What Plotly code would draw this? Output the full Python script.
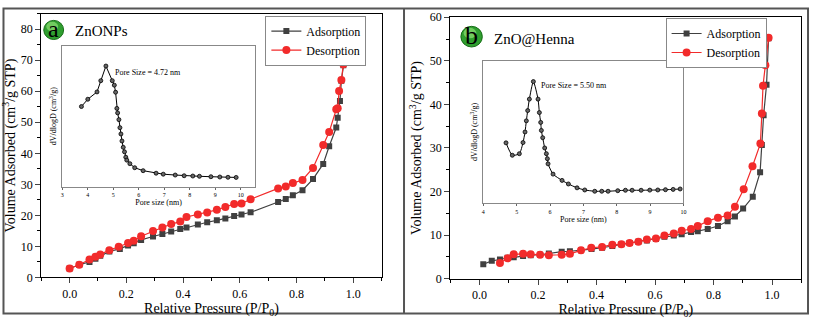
import plotly.graph_objects as go

W, H = 813, 323

# ZnONPs isotherm
ads_a_x = [0.0, 0.034, 0.07, 0.091, 0.108, 0.14, 0.177, 0.206, 0.226, 0.252, 0.294, 0.327, 0.358, 0.39, 0.412,
           0.452, 0.485, 0.519, 0.549, 0.58, 0.606, 0.638, 0.735, 0.762, 0.787, 0.821, 0.858, 0.894, 0.915, 0.94,
           0.945, 0.953, 0.958, 0.965, 0.977]
ads_a_y = [2.9, 4.1, 5.0, 6.0, 7.0, 8.4, 9.2, 10.3, 11.0, 12.1, 13.2, 14.0, 14.8, 15.6, 16.1,
           17.1, 17.8, 18.4, 19.0, 19.8, 20.3, 21.0, 24.3, 25.3, 26.5, 28.1, 31.7, 36.6, 42.3, 48.3,
           51.5, 56.9, 63.4, 68.4, 75.8]
des_a_x = [0.0, 0.034, 0.07, 0.091, 0.108, 0.14, 0.173, 0.206, 0.226, 0.252, 0.294, 0.327, 0.358, 0.39, 0.412,
           0.452, 0.485, 0.519, 0.549, 0.58, 0.606, 0.638, 0.735, 0.762, 0.787, 0.821, 0.858, 0.894, 0.915, 0.94,
           0.945, 0.95, 0.958, 0.965, 0.977]
des_a_y = [2.9, 4.1, 5.8, 6.7, 7.4, 8.8, 9.9, 11.1, 11.8, 13.3, 15.0, 16.1, 17.2, 18.0, 19.5,
           20.3, 20.9, 21.8, 22.7, 23.7, 23.8, 25.2, 28.7, 29.3, 30.4, 31.4, 35.3, 42.7, 46.9, 54.2,
           54.5, 60.1, 63.6, 68.7, 77.5]

# ZnO@Henna isotherm
ads_b_x = [0.013, 0.042, 0.07, 0.096, 0.117, 0.149, 0.175, 0.207, 0.237, 0.281, 0.309, 0.347, 0.383, 0.419,
           0.454, 0.485, 0.513, 0.543, 0.572, 0.603, 0.632, 0.664, 0.691, 0.723, 0.746, 0.78, 0.815, 0.848,
           0.873, 0.901, 0.934, 0.959, 0.965, 0.971, 0.981, 0.988]
ads_b_y = [3.3, 4.1, 4.4, 4.8, 4.9, 5.2, 5.4, 5.5, 5.8, 6.2, 6.3, 6.5, 6.8, 7.1,
           7.5, 7.9, 8.2, 8.5, 8.75, 9.1, 9.6, 9.9, 10.2, 10.7, 10.9, 11.4, 12.1, 13.2,
           14.3, 16.1, 18.8, 24.4, 30.7, 37.5, 44.5, 55.2]
des_b_x = [0.07, 0.096, 0.117, 0.149, 0.175, 0.207, 0.237, 0.281, 0.309, 0.347, 0.382, 0.419, 0.454, 0.485,
           0.513, 0.543, 0.572, 0.603, 0.632, 0.664, 0.691, 0.723, 0.746, 0.78, 0.815, 0.848, 0.873,
           0.903, 0.933, 0.96, 0.965, 0.969, 0.977, 0.988]
des_b_y = [3.6, 4.7, 5.6, 5.7, 5.6, 5.5, 5.4, 5.5, 5.7, 6.5, 7.1, 7.3, 7.8, 7.9,
           8.2, 8.5, 9.0, 9.2, 9.9, 10.4, 11.0, 11.4, 12.1, 13.2, 14.0, 14.5, 16.5,
           20.5, 25.8, 31.0, 37.9, 44.3, 49.0, 55.3]

# pore size distributions (relative dV/dlogD)
pore_a_x = [3.75, 4.0, 4.36, 4.51, 4.71, 4.96, 5.04, 5.09, 5.14, 5.17, 5.22, 5.26, 5.30, 5.34, 5.39, 5.44,
            5.49, 5.53, 5.65, 5.84, 6.17, 6.68, 6.96, 7.43, 7.78, 8.12, 8.38, 8.83, 9.18, 9.5, 9.82]
pore_a_y = [56.9, 62.1, 67.3, 75.3, 85.7, 75.3, 72.1, 67.1, 55.6, 52.4, 47.6, 41.9, 37.4, 32.4, 27.9, 24.7,
            20.9, 18.8, 16.3, 13.4, 11.3, 9.5, 8.8, 8.2, 7.7, 7.5, 7.3, 7.0, 6.8, 6.6, 6.5]
pore_b_x = [4.68, 4.87, 5.08, 5.19, 5.25, 5.29, 5.33, 5.38, 5.50, 5.64, 5.68, 5.72, 5.74, 5.78, 5.84, 5.89,
            5.92, 5.94, 6.09, 6.36, 6.55, 6.81, 7.04, 7.34, 7.55, 7.74, 8.03, 8.26, 8.46, 8.73, 8.99, 9.23,
            9.46, 9.69, 9.9]
pore_b_y = [42.4, 33.7, 34.8, 42.6, 50.0, 57.8, 65.0, 73.0, 85.3, 73.0, 63.6, 56.7, 51.1, 46.0, 38.8, 34.8,
            31.3, 27.7, 20.5, 16.1, 13.6, 10.9, 9.4, 8.5, 8.5, 8.5, 8.9, 9.2, 9.2, 9.2, 9.3, 9.4,
            9.6, 9.8, 10.1]

SERIF = "Liberation Serif, Times New Roman, serif"
GRAY = "#404040"
RED = "#f22b2b"


def px_x(v):
    return v / W


def px_y(v):
    return 1 - v / H


fig = go.Figure()

for xs, ys, xa, ya, leg in [(ads_a_x, ads_a_y, "x", "y", "legend"), (ads_b_x, ads_b_y, "x2", "y2", "legend2")]:
    fig.add_trace(go.Scatter(x=xs, y=ys, mode="lines+markers", name="Adsorption", xaxis=xa, yaxis=ya, legend=leg,
                             line=dict(color=GRAY, width=1.2),
                             marker=dict(symbol="square", size=6, color=GRAY)))
for xs, ys, xa, ya, leg in [(des_a_x, des_a_y, "x", "y", "legend"), (des_b_x, des_b_y, "x2", "y2", "legend2")]:
    fig.add_trace(go.Scatter(x=xs, y=ys, mode="lines+markers", name="Desorption", xaxis=xa, yaxis=ya, legend=leg,
                             line=dict(color=RED, width=1.2),
                             marker=dict(symbol="circle", size=8, color=RED)))

fig.add_trace(go.Scatter(x=pore_a_x, y=pore_a_y, mode="lines+markers", xaxis="x3", yaxis="y3", showlegend=False,
                         line=dict(color="black", width=1),
                         marker=dict(size=4, color="#666", line=dict(color="black", width=0.8))))
fig.add_trace(go.Scatter(x=pore_b_x, y=pore_b_y, mode="lines+markers", xaxis="x4", yaxis="y4", showlegend=False,
                         line=dict(color="black", width=1, shape="spline", smoothing=0.6),
                         marker=dict(size=4, color="#666", line=dict(color="black", width=0.8))))

main_x = dict(range=[-0.1, 1.1], tick0=0, dtick=0.2, tickformat=".1f", ticks="outside", ticklen=5,
              showline=True, linecolor="black", linewidth=1, mirror=True, showgrid=False, zeroline=False,
              tickfont=dict(family=SERIF, size=12, color="black"),
              minor=dict(dtick=0.1, ticks="outside", ticklen=3, tickcolor="black"),
              title=dict(text="Relative Pressure (P/P<sub>0</sub>)", font=dict(family=SERIF, size=14, color="black"),
                         standoff=2))
main_y = dict(tick0=0, dtick=10, ticks="outside", ticklen=5,
              showline=True, linecolor="black", linewidth=1, mirror=True, showgrid=False, zeroline=False,
              tickfont=dict(family=SERIF, size=12, color="black"),
              minor=dict(dtick=5, ticks="outside", ticklen=3, tickcolor="black"),
              title=dict(text="Volume Adsorbed (cm<sup>3</sup>/g STP)", font=dict(family=SERIF, size=14, color="black"),
                         standoff=4))
inset_x = dict(dtick=1, ticks="outside", ticklen=2, tickwidth=0.8, tickcolor="#666",
               showline=True, linecolor="#888", linewidth=1, mirror=True, showgrid=False, zeroline=False,
               tickfont=dict(family=SERIF, size=6, color="black"),
               title=dict(text="Pore size (nm)", font=dict(family=SERIF, size=8, color="black"), standoff=1))
inset_y = dict(range=[0, 100], showticklabels=False, ticks="", showline=True, linecolor="#888", linewidth=1,
               mirror=True, showgrid=False, zeroline=False,
               title=dict(text="dV/dlogD (cm<sup>3</sup>/g)", font=dict(family=SERIF, size=8, color="black"),
                          standoff=3))

fig.update_layout(
    width=W, height=H,
    margin=dict(l=0, r=0, t=0, b=0),
    font=dict(family=SERIF, color="black"),
    paper_bgcolor="white", plot_bgcolor="white",
    xaxis=dict(main_x, domain=[px_x(39.5), px_x(382)], anchor="y"),
    yaxis=dict(main_y, domain=[px_y(282.7), px_y(7)], range=[0, 85], anchor="x"),
    xaxis2=dict(main_x, domain=[px_x(451), px_x(804.3)], anchor="y2"),
    yaxis2=dict(main_y, domain=[px_y(284), px_y(10.7)], range=[0, 60], anchor="x2"),
    xaxis3=dict(inset_x, domain=[px_x(60.7), px_x(254.3)], range=[3, 10.55], anchor="y3"),
    yaxis3=dict(inset_y, domain=[px_y(187.7), px_y(40.7)], anchor="x3"),
    xaxis4=dict(inset_x, domain=[px_x(484.3), px_x(685.7)], range=[4, 10], anchor="y4"),
    yaxis4=dict(inset_y, domain=[px_y(205.3), px_y(56)], anchor="x4"),
    legend=dict(x=px_x(265), y=px_y(9), xanchor="left", yanchor="top", bgcolor="white",
                bordercolor="#888", borderwidth=1, font=dict(family=SERIF, size=12, color="black"),
                itemwidth=30, tracegroupgap=0),
    legend2=dict(x=px_x(667.7), y=px_y(11.5), xanchor="left", yanchor="top", bgcolor="white",
                 bordercolor="#888", borderwidth=1, font=dict(family=SERIF, size=12, color="black"),
                 itemwidth=30, tracegroupgap=0),
    showlegend=True,
)

shapes = [
    dict(type="rect", xref="paper", yref="paper", x0=px_x(1.5), x1=px_x(811), y0=px_y(320.5), y1=px_y(1.5),
         line=dict(color="#555", width=2)),
    dict(type="line", xref="paper", yref="paper", x0=px_x(404.5), x1=px_x(404.5), y0=px_y(320.5), y1=px_y(1.5),
         line=dict(color="#555", width=2)),
]
for cx, cy, r in [(52, 24, 10), (472.5, 31, 10.8)]:
    shapes.append(dict(type="circle", xref="paper", yref="paper", x0=px_x(cx - r), x1=px_x(cx + r),
                       y0=px_y(cy + r), y1=px_y(cy - r), fillcolor="#2f9e2f", line=dict(color="#166d16", width=1)))
    shapes.append(dict(type="circle", xref="paper", yref="paper", x0=px_x(cx - r * 0.75), x1=px_x(cx + r * 0.45),
                       y0=px_y(cy + r * 0.15), y1=px_y(cy - r * 0.85), fillcolor="rgba(160,235,130,0.6)",
                       line=dict(width=0)))
fig.update_layout(shapes=shapes)

ann = [
    dict(text="a", x=px_x(52), y=px_y(22.5), xanchor="center", font=dict(family=SERIF, size=24, color="black")),
    dict(text="b", x=px_x(472.5), y=px_y(30), xanchor="center", font=dict(family=SERIF, size=26, color="black")),
    dict(text="ZnONPs", x=px_x(71), y=px_y(25), xanchor="left", font=dict(family=SERIF, size=15, color="black")),
    dict(text="ZnO@Henna", x=px_x(493), y=px_y(33), xanchor="left", font=dict(family=SERIF, size=15, color="black")),
    dict(text="Pore Size = 4.72 nm", x=px_x(112), y=px_y(68.5), xanchor="left",
         font=dict(family=SERIF, size=8, color="black")),
    dict(text="Pore Size = 5.50 nm", x=px_x(540), y=px_y(82), xanchor="left",
         font=dict(family=SERIF, size=8, color="black")),
]
for a in ann:
    a.update(xref="paper", yref="paper", yanchor="middle", showarrow=False)
fig.update_layout(annotations=ann)

fig.write_html("out.html", config={"displayModeBar": False},
               post_script="document.body.style.margin='0';")
